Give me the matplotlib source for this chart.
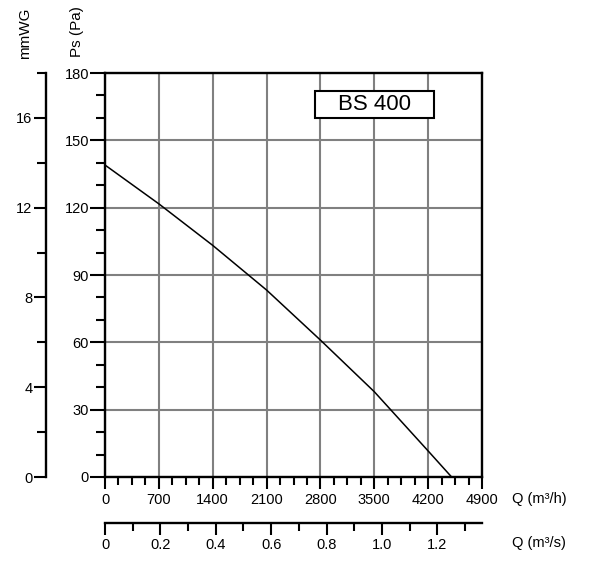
import numpy as np
import matplotlib
matplotlib.use('Agg')
import matplotlib.pyplot as plt
from matplotlib.ticker import MultipleLocator, FixedLocator, FuncFormatter

plt.rcParams['font.family'] = ['Liberation Sans', 'DejaVu Sans']

# ---- data -------------------------------------------------------------------
q_m3h = [0, 700, 1400, 2100, 2800, 3500, 4200, 4505]
ps_pa = [139, 121.7, 103.2, 83.3, 61, 38, 11.6, 0]
model = 'BS 400'

x_ticks = [0, 700, 1400, 2100, 2800, 3500, 4200, 4900]
y_ticks = [0, 30, 60, 90, 120, 150, 180]
mm_ticks = [0, 4, 8, 12, 16]
qs_ticks = [0, 0.2, 0.4, 0.6, 0.8, 1.0, 1.2]

FS = 10.5
TW = 1.5

fig = plt.figure(figsize=(5.91, 5.79), dpi=100)
ax = fig.add_axes([105 / 591, 102 / 579, 377 / 591, 404 / 579])

ax.plot(q_m3h, ps_pa, color='black', lw=1.1, zorder=3)
ax.set_xlim(0, 4900)
ax.set_ylim(0, 180)

ax.xaxis.set_major_locator(FixedLocator(x_ticks))
ax.xaxis.set_minor_locator(MultipleLocator(175))
ax.yaxis.set_major_locator(FixedLocator(y_ticks))
ax.yaxis.set_minor_locator(MultipleLocator(10))
ax.grid(True, which='major', color='#808080', lw=1.5)
ax.set_axisbelow(True)
ax.tick_params(axis='x', which='major', length=8.5, width=TW, labelsize=FS, pad=3)
ax.tick_params(axis='x', which='minor', length=6, width=TW)
ax.tick_params(axis='y', which='major', length=11, width=TW, labelsize=FS, pad=0.5)
ax.tick_params(axis='y', which='minor', length=6.5, width=TW)
for s in ax.spines.values():
    s.set_linewidth(1.7)

# model tag in a framed box
box_w, box_h = 119 / 377, 27 / 404
ax.add_patch(plt.Rectangle((0.715 - box_w / 2, 0.921 - box_h / 2), box_w, box_h,
                           transform=ax.transAxes, fc='white', ec='black',
                           lw=1.5, zorder=3.5))
ax.text(0.715, 0.921, model, transform=ax.transAxes, fontsize=16,
        ha='center', va='center', zorder=4)

# ---- mmWG axis on the far left ---------------------------------------------
ax_mm = ax.twinx()
ax_mm.set_ylim(0, 18)
for k in ['top', 'right', 'bottom']:
    ax_mm.spines[k].set_visible(False)
ax_mm.spines['left'].set_position(('axes', -59.3 / 377))
ax_mm.spines['left'].set_linewidth(1.7)
ax_mm.spines['left'].set_visible(True)
ax_mm.yaxis.set_ticks_position('left')
ax_mm.yaxis.set_label_position('left')
ax_mm.yaxis.set_major_locator(FixedLocator(mm_ticks))
ax_mm.yaxis.set_minor_locator(FixedLocator([2, 6, 10, 14, 18]))
ax_mm.tick_params(axis='y', which='major', length=9, width=TW, labelsize=FS, pad=0.5)
ax_mm.tick_params(axis='y', which='minor', length=6.5, width=TW)

# ---- m3/s axis below --------------------------------------------------------
ax_s = ax.twiny()
ax_s.set_xlim(0, 4900 / 3600)
for k in ['top', 'right', 'left']:
    ax_s.spines[k].set_visible(False)
ax_s.spines['bottom'].set_position(('axes', -46 / 404))
ax_s.spines['bottom'].set_linewidth(1.7)
ax_s.spines['bottom'].set_visible(True)
ax_s.xaxis.set_ticks_position('bottom')
ax_s.xaxis.set_major_locator(FixedLocator(qs_ticks))
ax_s.xaxis.set_minor_locator(FixedLocator([0.1, 0.3, 0.5, 0.7, 0.9, 1.1, 1.3]))
ax_s.xaxis.set_major_formatter(FuncFormatter(lambda v, p: '0' if v == 0 else '%.1f' % v))
ax_s.tick_params(axis='x', which='major', length=8.5, width=TW, labelsize=FS, pad=2)
ax_s.tick_params(axis='x', which='minor', length=6, width=TW)

# ---- axis titles --------------------------------------------------------------
fig.text(512 / 591, 1 - 499 / 579, 'Q (m³/h)', fontsize=FS, ha='left', va='center')
fig.text(512 / 591, 1 - 543 / 579, 'Q (m³/s)', fontsize=FS, ha='left', va='center')
fig.text(77 / 591, 1 - 32 / 579, 'Ps (Pa)', fontsize=FS + 0.5, rotation=90, ha='center', va='center')
fig.text(25 / 591, 1 - 33 / 579, 'mmWG', fontsize=FS + 0.5, rotation=90, ha='center', va='center')

fig.savefig('out.png', dpi=100)
